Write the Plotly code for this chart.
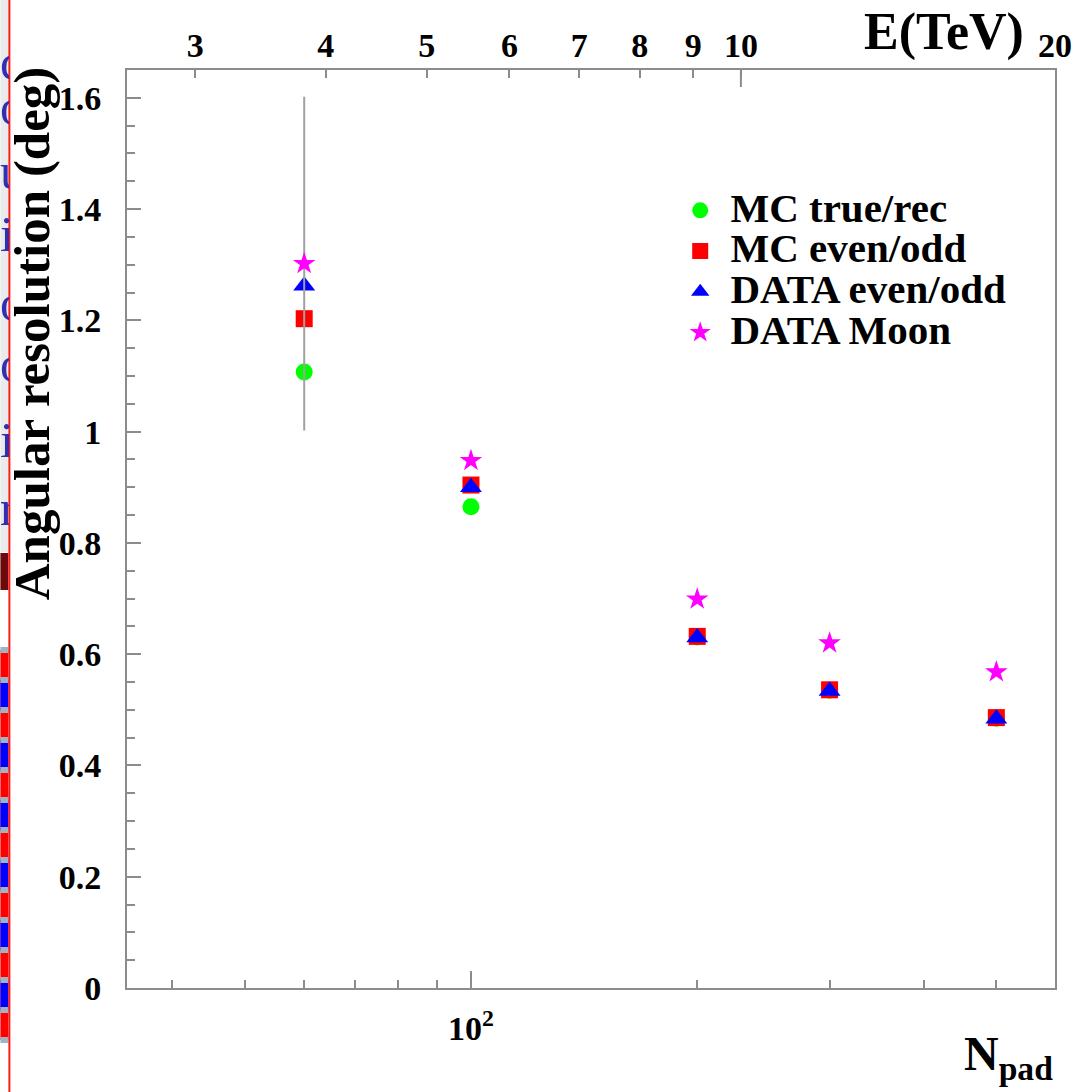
import plotly.graph_objects as go

# ---------------- data ----------------
npad = [60, 100, 200, 300, 500]
mc_true_rec = [1.107, 0.865, 0.631, 0.535, 0.485]
mc_even_odd = [1.203, 0.904, 0.632, 0.536, 0.486]
data_even_odd = [1.262, 0.900, 0.630, 0.534, 0.484]
data_moon = [1.302, 0.948, 0.699, 0.620, 0.568]
data_moon_err = [0.30, 0.0, 0.0, 0.0, 0.0]

series_names = ["MC true/rec", "MC even/odd", "DATA even/odd", "DATA Moon"]
series_values = [mc_true_rec, mc_even_odd, data_even_odd, data_moon]
colors = ["#00ff00", "#ff0000", "#0000ff", "#ff00ff"]
symbols = ["circle", "square", "triangle-up", "star"]
sizes = [17, 17, 19, 17]

y_major = [0, 0.2, 0.4, 0.6, 0.8, 1.0, 1.2, 1.4, 1.6]
x_major = [100]
x_major_text = ["10<sup>2</sup>"]
x_minor = [40, 50, 60, 70, 80, 90, 200, 300, 400, 500]
e_ticks = [3, 4, 5, 6, 7, 8, 9, 10, 20]
e_long_tick = [10]

# ---------------- layout geometry ----------------
W_FIG, H_FIG = 1084, 1092
L, R, T, B = 127, 26, 70, 104
PW, PH = W_FIG - L - R, H_FIG - T - B

def px_x(p):
    return (p - L) / PW

def px_y(p):
    return (T + PH - p) / PH

SERIF = "Liberation Serif"
AX_COL = "#8c8c8c"

fig = go.Figure()

for name, vals, col, sym, sz in zip(series_names, series_values, colors, symbols, sizes):
    err = None
    if name == "DATA Moon":
        err = dict(type="data", array=data_moon_err, visible=True,
                   color="#a0a0a0", thickness=2, width=0)
    fig.add_trace(go.Scatter(
        x=npad, y=vals, mode="markers", name=f"<span style='font-size:41px'> {name}</span>",
        marker=dict(symbol=sym, color=col, size=sz, line=dict(width=0)),
        error_y=err,
    ))

# dummy trace to activate the top energy axis
fig.add_trace(go.Scatter(x=e_ticks, y=[None] * len(e_ticks), xaxis="x2",
                         mode="markers", showlegend=False, hoverinfo="skip"))

fig.update_layout(
    width=W_FIG, height=H_FIG,
    margin=dict(l=L, r=R, t=T, b=B),
    paper_bgcolor="white", plot_bgcolor="white",
    font=dict(family=SERIF, size=33, color="black", weight="bold"),
    showlegend=True,
    legend=dict(x=px_x(682), y=px_y(185), xanchor="left", yanchor="top",
                font=dict(family=SERIF, size=29, color="black", weight="bold"),
                bgcolor="rgba(0,0,0,0)", itemsizing="trace"),
    xaxis=dict(type="log", range=[1.5424, 2.7770],
               showline=True, linecolor=AX_COL, linewidth=2,
               showgrid=False, zeroline=False,
               tickmode="array", tickvals=x_major, ticktext=x_major_text,
               ticks="inside", ticklen=17, tickwidth=2, tickcolor=AX_COL,
               tickfont=dict(family=SERIF, size=34, weight="bold"),
               ticklabelstandoff=9,
               minor=dict(tickmode="array", tickvals=x_minor, ticks="inside",
                          ticklen=8, tickwidth=2, tickcolor=AX_COL, showgrid=False)),
    xaxis2=dict(type="log", range=[0.4117, 1.3010], overlaying="x", side="top",
                anchor="y", showline=True, linecolor=AX_COL, linewidth=2,
                showgrid=False, zeroline=False,
                tickmode="array", tickvals=e_ticks, ticktext=[str(v) for v in e_ticks],
                ticks="inside", ticklen=8, tickwidth=2, tickcolor=AX_COL,
                tickfont=dict(family=SERIF, size=34, weight="bold"),
                ticklabelstandoff=-3),
    yaxis=dict(range=[0, 1.65], showline=True, mirror=True, linecolor=AX_COL, linewidth=2,
               showgrid=False, zeroline=False,
               tickmode="array", tickvals=y_major,
               ticks="inside", ticklen=14, tickwidth=2, tickcolor=AX_COL,
               tickfont=dict(family=SERIF, size=34, weight="bold"),
               ticklabelstandoff=17,
               minor=dict(dtick=0.05, ticks="inside", ticklen=8, tickwidth=2,
                          tickcolor=AX_COL, showgrid=False)),
)

# long tick at 10 TeV on the top axis
for v in e_long_tick:
    fig.add_shape(type="line", xref="x2", yref="paper", x0=v, x1=v,
                  y0=1, y1=1 - 17 / PH, line=dict(color=AX_COL, width=2))

annotations = [
    dict(text="Angular resolution (deg)", xref="paper", yref="paper",
         x=px_x(32), y=px_y(333), xanchor="center", yanchor="middle",
         textangle=-90, showarrow=False,
         font=dict(family=SERIF, size=51, color="black", weight="bold")),
    dict(text="E(TeV)", xref="paper", yref="paper",
         x=px_x(947), y=px_y(32), xanchor="center", yanchor="middle",
         showarrow=False,
         font=dict(family=SERIF, size=52, color="black", weight="bold")),
    dict(text="N<sub>pad</sub>", xref="paper", yref="paper",
         x=px_x(1058), y=px_y(1057), xanchor="right", yanchor="middle",
         showarrow=False,
         font=dict(family=SERIF, size=48, color="black", weight="bold")),
]

# ---- left edge remnants of the underlying slide ----
strip_letters = ["c", "o", "u", "i", "o", "o", "i", "r"]
strip_letter_y = [62, 107, 171, 234, 303, 364, 440, 508]
for ch, yy in zip(strip_letters, strip_letter_y):
    annotations.append(dict(text=ch, xref="paper", yref="paper",
                            x=px_x(-1), y=px_y(yy), xanchor="left", yanchor="middle",
                            width=9, align="left", showarrow=False, borderpad=0,
                            font=dict(family=SERIF, size=50, color="#3030b0", weight="normal")))
fig.update_layout(annotations=annotations)

shapes_extra = []
# light textured background
shapes_extra.append(dict(type="rect", xref="paper", yref="paper",
                         x0=px_x(0), x1=px_x(8), y0=px_y(0), y1=px_y(552),
                         fillcolor="#ebebeb", line=dict(width=0), layer="below"))
# dark red block
shapes_extra.append(dict(type="rect", xref="paper", yref="paper",
                         x0=px_x(0), x1=px_x(8), y0=px_y(553), y1=px_y(590),
                         fillcolor="#6b0a0a", line=dict(width=0), layer="below"))
# red / blue stripes
shapes_extra.append(dict(type="rect", xref="paper", yref="paper",
                         x0=px_x(0), x1=px_x(8), y0=px_y(650), y1=px_y(1040),
                         fillcolor="#ff0000", line=dict(width=0), layer="below"))
for k in range(6):
    top = 680 + 60 * k
    shapes_extra.append(dict(type="rect", xref="paper", yref="paper",
                             x0=px_x(0), x1=px_x(8), y0=px_y(top), y1=px_y(top + 30),
                             fillcolor="#0000ff", line=dict(width=0), layer="below"))
for k in range(14):
    yy = 650 + 30 * k
    shapes_extra.append(dict(type="rect", xref="paper", yref="paper",
                             x0=px_x(0), x1=px_x(8), y0=px_y(yy - 3), y1=px_y(yy + 3),
                             fillcolor="#9fb3c4", line=dict(width=0), layer="below"))
# red vertical border line
shapes_extra.append(dict(type="line", xref="paper", yref="paper",
                         x0=px_x(9), x1=px_x(9), y0=px_y(0), y1=px_y(H_FIG),
                         line=dict(color="#ff1a1a", width=2), layer="above"))
for s in shapes_extra:
    fig.add_shape(**s)

fig.write_html("out.html")
